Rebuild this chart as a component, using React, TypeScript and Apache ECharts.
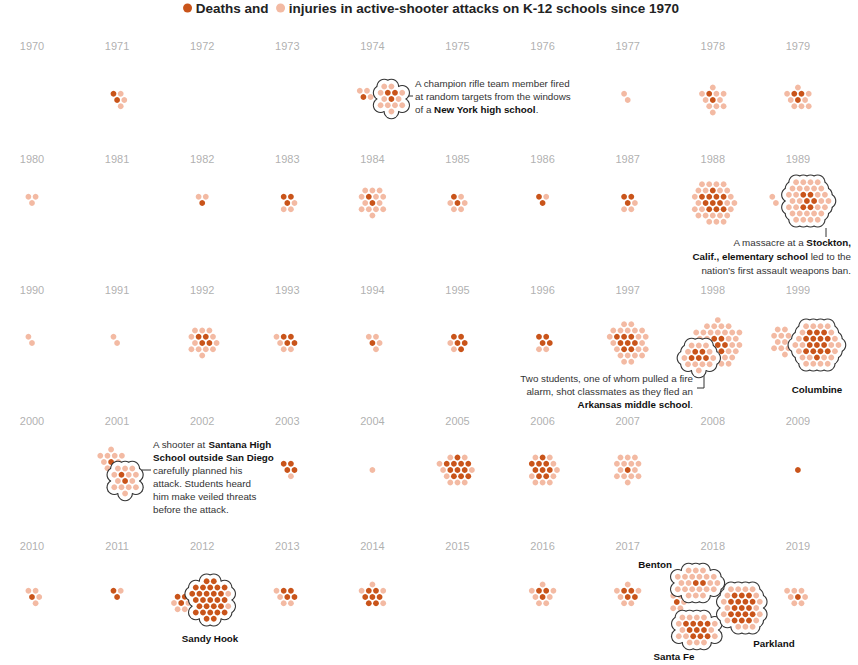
import React, { useEffect, useRef } from "react";
import * as echarts from "echarts";

// ---------- DATA ----------
const years = [
  1970, 1971, 1972, 1973, 1974, 1975, 1976, 1977, 1978, 1979,
  1980, 1981, 1982, 1983, 1984, 1985, 1986, 1987, 1988, 1989,
  1990, 1991, 1992, 1993, 1994, 1995, 1996, 1997, 1998, 1999,
  2000, 2001, 2002, 2003, 2004, 2005, 2006, 2007, 2008, 2009,
  2010, 2011, 2012, 2013, 2014, 2015, 2016, 2017, 2018, 2019,
];
// deaths / injuries in all other attacks of each year
const otherDeaths = [
  0, 2, 0, 0, 1, 0, 0, 0, 2, 3,
  0, 0, 1, 3, 2, 2, 2, 3, 11, 0,
  0, 0, 4, 4, 1, 5, 4, 8, 5, 0,
  0, 1, 0, 4, 0, 11, 9, 1, 0, 1,
  1, 2, 3, 4, 7, 0, 3, 4, 1, 1,
];
const otherInjuries = [
  0, 3, 0, 0, 3, 0, 0, 2, 10, 8,
  3, 0, 2, 3, 13, 5, 1, 3, 24, 2,
  2, 2, 12, 4, 4, 2, 2, 21, 35, 14,
  0, 10, 0, 1, 1, 9, 9, 14, 0, 0,
  4, 1, 4, 4, 4, 0, 7, 6, 5, 7,
];
// highlighted attacks
const highlightNames = ["New York high school", "Stockton", "Arkansas middle school", "Columbine", "Santana High School", "Sandy Hook", "Benton", "Santa Fe", "Parkland"];
const highlightYears = [1974, 1989, 1998, 1999, 2001, 2012, 2018, 2018, 2018];
const highlightDeaths = [3, 6, 5, 15, 2, 28, 2, 10, 17];
const highlightInjuries = [11, 30, 12, 22, 13, 2, 22, 14, 17];

// ---------- LAYOUT ----------
const W = 858;
const H = 665;
const COLS = 10;
const COL_X0 = 32;
const COL_W = 85.1;
const ROW_LABEL_Y = [46, 159, 290, 421, 546];
const ROW_DOT_Y = [100, 203, 343, 470, 597];
const OTHER_SHIFT: Record<number, [number, number]> = {
  1974: [-9, -3], 1989: [-22, 0], 1998: [5, 2], 1999: [-13, -1],
  2001: [-6, -8], 2012: [-21, 6], 2018: [-36, 5],
};
const HIGHLIGHT_SHIFT: [number, number][] = [
  [19, -1], [9, -2], [-14, 15], [19, 2], [8, 11], [8, 3], [-17, -14], [-16, 33], [29, 11],
];
// vertical weight of the packing (>1 makes a flatter cluster, <1 a taller one)
const HIGHLIGHT_ASPECT = [1, 1, 1.15, 0.9, 1, 0.85, 1.45, 1.1, 0.9];
const SP = 7.2;
const DOT = 5.8;
const DARK = "#c9541a";
const LIGHT = "#f3baa3";
const FONT = "'Liberation Sans', Arial, sans-serif";
const ANN = 9.8;

const lattice: [number, number][] = (() => {
  const pts: [number, number][] = [];
  for (let j = -10; j <= 10; j++)
    for (let i = -12; i <= 12; i++) pts.push([(i + j / 2) * SP, (j * SP * Math.sqrt(3)) / 2]);
  return pts;
})();

function packed(aspect: number): [number, number][] {
  const pts = lattice.slice();
  pts.sort((a, b) => {
    const da = Math.hypot(a[0], a[1] * aspect);
    const db = Math.hypot(b[0], b[1] * aspect);
    if (Math.abs(da - db) > 0.01) return da - db;
    return Math.atan2(a[1], a[0]) - Math.atan2(b[1], b[0]);
  });
  return pts;
}

function cellCenter(year: number): [number, number] {
  const idx = years.indexOf(year);
  const c = idx % COLS;
  const r = Math.floor(idx / COLS);
  return [COL_X0 + COL_W * c, ROW_DOT_Y[r]];
}

function cluster(cx: number, cy: number, d: number, n: number, aspect = 1) {
  const pts = packed(aspect);
  const dead = pts.slice(0, d).map((p) => [cx + p[0], cy + p[1]]);
  const inj = pts.slice(d, d + n).map((p) => [cx + p[0], cy + p[1]]);
  return { dead, inj };
}

function buildOption() {
  const baseDead: number[][] = [];
  const baseInj: number[][] = [];
  years.forEach((y, i) => {
    const [cx, cy] = cellCenter(y);
    const s = OTHER_SHIFT[y] || [0, 0];
    const c = cluster(cx + s[0], cy + s[1], otherDeaths[i], otherInjuries[i]);
    baseDead.push(...c.dead);
    baseInj.push(...c.inj);
  });

  const labelData = years.map((y, i) => {
    const c = i % COLS;
    const r = Math.floor(i / COLS);
    return [COL_X0 + COL_W * c, ROW_LABEL_Y[r], y];
  });

  const dot = (color: string, size = DOT) => ({ symbolSize: size, itemStyle: { color, opacity: 1 }, silent: true });

  const series: any[] = [
    {
      type: "scatter", name: "yearLabels", data: labelData, symbolSize: 0, silent: true,
      label: {
        show: true, position: "inside", formatter: (p: any) => String(p.value[2]),
        color: "#9b9b9b", fontSize: 11, fontFamily: FONT,
      },
    },
    { type: "scatter", name: "Deaths", data: baseDead, ...dot(DARK) },
    { type: "scatter", name: "Injuries", data: baseInj, ...dot(LIGHT) },
  ];

  highlightNames.forEach((nm, k) => {
    const [cx, cy] = cellCenter(highlightYears[k]);
    const s = HIGHLIGHT_SHIFT[k];
    const c = cluster(cx + s[0], cy + s[1], highlightDeaths[k], highlightInjuries[k], HIGHLIGHT_ASPECT[k]);
    const all = [...c.dead, ...c.inj];
    series.push(
      { type: "scatter", name: nm + " outline", data: all, ...dot("#333", 15.6) },
      { type: "scatter", name: nm + " fill", data: all, ...dot("#fff", 13.4) },
      { type: "scatter", name: nm + " deaths", data: c.dead, ...dot(DARK) },
      { type: "scatter", name: nm + " injuries", data: c.inj, ...dot(LIGHT) },
    );
  });

  const txt = (x: number, y: number, text: string, align: string) => ({
    type: "text", x, y, silent: true,
    style: {
      text, fill: "#333", font: `${ANN}px ${FONT}`, textAlign: align, textVerticalAlign: "middle",
      rich: { b: { fontWeight: "bold", fill: "#111", fontSize: ANN, fontFamily: FONT } },
    },
  });
  const lbl = (x: number, y: number, text: string) =>
    ({ type: "text", x, y, silent: true, style: { text, fill: "#111", font: `bold ${ANN}px ${FONT}`, textAlign: "center", textVerticalAlign: "middle" } });
  const ln = (x1: number, y1: number, x2: number, y2: number) =>
    ({ type: "line", silent: true, shape: { x1, y1, x2, y2 }, style: { stroke: "#333", lineWidth: 1 } });

  const graphic: any[] = [
    {
      type: "text", x: 431, y: 8, silent: true,
      style: {
        text: "{d|}{t| Deaths and  }{i|}{t| injuries in active-shooter attacks on K-12 schools since 1970}",
        textAlign: "center", textVerticalAlign: "middle",
        rich: {
          d: { width: 9, height: 9, backgroundColor: DARK, borderRadius: 4.5 },
          i: { width: 9, height: 9, backgroundColor: LIGHT, borderRadius: 4.5 },
          t: { fontSize: 13.5, fontWeight: "bold", fontFamily: FONT, fill: "#222" },
        },
      },
    },
    // 1974
    txt(415, 83, "A champion rifle team member fired", "left"),
    txt(415, 96, "at random targets from the windows", "left"),
    txt(415, 109, "of a {b|New York high school}.", "left"),
    ln(404, 96, 413, 96),
    // 1989
    txt(851, 242, "A massacre at a {b|Stockton,}", "right"),
    txt(851, 256, "{b|Calif., elementary school} led to the", "right"),
    txt(851, 270, "nation\u2019s first assault weapons ban.", "right"),
    ln(826, 228, 826, 237),
    // 1998
    txt(693, 378, "Two students, one of whom pulled a fire", "right"),
    txt(693, 391, "alarm, shot classmates as they fled an", "right"),
    txt(693, 404, "{b|Arkansas middle school}.", "right"),
    { type: "polyline", silent: true, shape: { points: [[697, 388], [704, 388], [704, 372]] }, style: { stroke: "#333", lineWidth: 1, fill: "none" } },
    // 2001
    txt(153, 444, "A shooter at {b|Santana High}", "left"),
    txt(153, 457, "{b|School outside San Diego}", "left"),
    txt(153, 470, "carefully planned his", "left"),
    txt(153, 483, "attack. Students heard", "left"),
    txt(153, 496, "him make veiled threats", "left"),
    txt(153, 509, "before the attack.", "left"),
    ln(142, 470, 151, 470),
    lbl(817, 389, "Columbine"),
    lbl(210, 638, "Sandy Hook"),
    lbl(655, 564, "Benton"),
    lbl(674, 656, "Santa Fe"),
    lbl(774, 643, "Parkland"),
  ];

  return {
    animation: false,
    backgroundColor: "#fff",
    grid: { left: 0, right: 0, top: 0, bottom: 0 },
    xAxis: { type: "value", min: 0, max: W, show: false },
    yAxis: { type: "value", min: 0, max: H, inverse: true, show: false },
    series,
    graphic,
  };
}

export default function App() {
  const ref = useRef<HTMLDivElement>(null);
  useEffect(() => {
    document.body.style.margin = "0";
    const chart = echarts.init(ref.current!, undefined, { renderer: "svg" });
    chart.setOption(buildOption() as any);
    return () => chart.dispose();
  }, []);
  return <div ref={ref} style={{ width: W, height: H }} />;
}
